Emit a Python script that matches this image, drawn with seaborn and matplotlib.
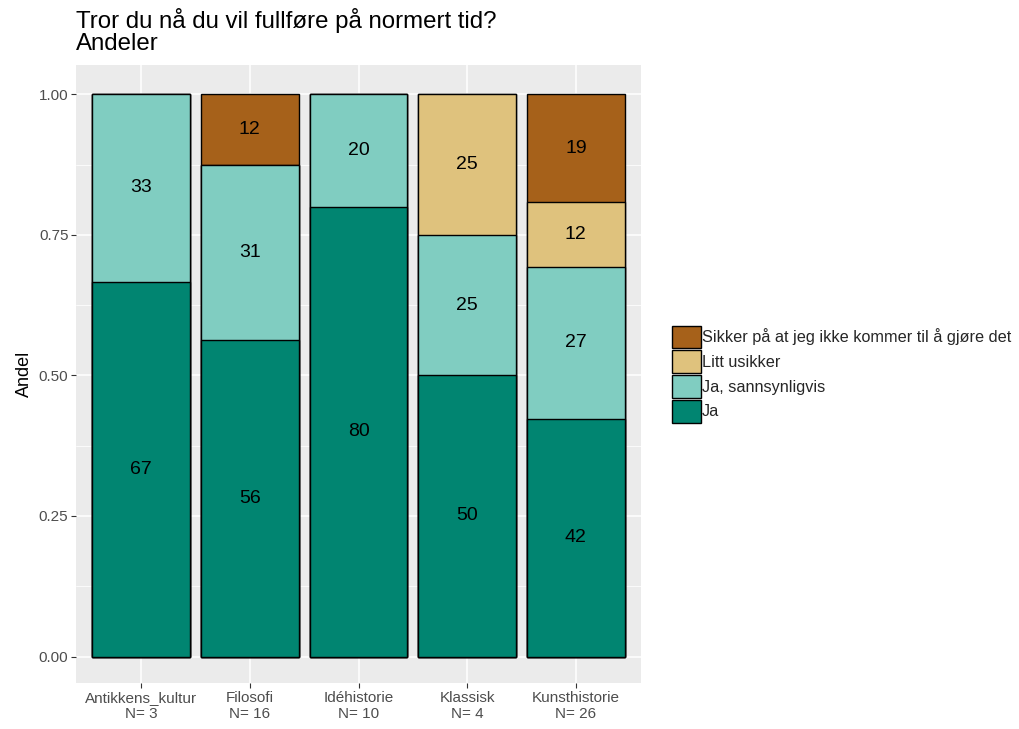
import numpy as np
import pandas as pd
import matplotlib
matplotlib.use("Agg")
import matplotlib.pyplot as plt
import seaborn as sns
from matplotlib.patches import Patch
from matplotlib.ticker import MultipleLocator

# ---- data ----
programs = ["Antikkens_kultur", "Filosofi", "Idéhistorie", "Klassisk", "Kunsthistorie"]
n_total = [3, 16, 10, 4, 26]
answers = ["Ja", "Ja, sannsynligvis", "Litt usikker", "Sikker på at jeg ikke kommer til å gjøre det"]
count_ja = [2, 9, 8, 2, 11]
count_ja_sann = [1, 5, 2, 1, 7]
count_litt = [0, 0, 0, 1, 3]
count_sikker = [0, 2, 0, 0, 5]
colors = ["#018571", "#80CDC1", "#DFC27D", "#A6611A"]

title = "Tror du nå du vil fullføre på normert tid?\nAndeler"
ylabel = "Andel"

counts = np.array([count_ja, count_ja_sann, count_litt, count_sikker], dtype=float)
shares = counts / np.array(n_total, dtype=float)
cum = np.cumsum(shares, axis=0)
xlabels = [f"{p}\nN= {n}" for p, n in zip(programs, n_total)]

sns.set_theme(style="darkgrid")
plt.rcParams["font.family"] = ["Liberation Sans", "DejaVu Sans"]

fig = plt.figure(figsize=(10.19, 7.29), dpi=100)
ax = fig.add_axes([0.0746, 0.0631, 0.5545, 0.8477])
ax.set_facecolor("#EBEBEB")

# draw stacked layers from the top down
for k in range(len(answers) - 1, -1, -1):
    df = pd.DataFrame({"program": xlabels, "cum": cum[k]})
    sns.barplot(data=df, x="program", y="cum", color=colors[k], saturation=1,
                width=0.9, edgecolor="black", linewidth=1.0, ax=ax, zorder=2)

# segment labels
for i in range(len(programs)):
    for k in range(len(answers)):
        s = shares[k, i]
        if s > 0:
            mid = cum[k, i] - s / 2
            ax.text(i, mid, f"{round(s * 100):d}", ha="center", va="center",
                    fontsize=14, color="black", zorder=3)

ax.set_xlim(-0.6, len(programs) - 1 + 0.6)
ax.set_ylim(-0.047, 1.052)
ax.yaxis.set_minor_locator(MultipleLocator(0.125))
ax.set_yticks([0, 0.25, 0.5, 0.75, 1.0])
ax.set_yticklabels(["0.00", "0.25", "0.50", "0.75", "1.00"])
ax.grid(which="major", color="white", linewidth=1.1, zorder=0)
ax.grid(which="minor", axis="y", color="white", linewidth=0.55, zorder=0)
ax.set_axisbelow(True)
for sp in ax.spines.values():
    sp.set_visible(False)
ax.tick_params(axis="both", which="major", length=3.5, width=0.8, color="#333333",
               labelcolor="#4D4D4D", labelsize=11, pad=2, bottom=True, left=True)
ax.tick_params(axis="y", which="minor", length=0)
ax.set_xlabel("")
ax.set_ylabel(ylabel, fontsize=13, color="black", labelpad=4)
ax.set_title(title, loc="left", fontsize=17.3, color="black", pad=11,
             linespacing=1.0, x=0.0)

handles = [Patch(facecolor=colors[k], edgecolor="black", linewidth=1.0, label=answers[k])
           for k in range(len(answers) - 1, -1, -1)]
leg = ax.legend(handles=handles, loc="center left", bbox_to_anchor=(1.055, 0.5),
                frameon=False, fontsize=11.7, handlelength=1.78, handleheight=1.78,
                handletextpad=0.05, labelspacing=0.12, borderaxespad=0, borderpad=0)

fig.savefig("out.png", dpi=100)
